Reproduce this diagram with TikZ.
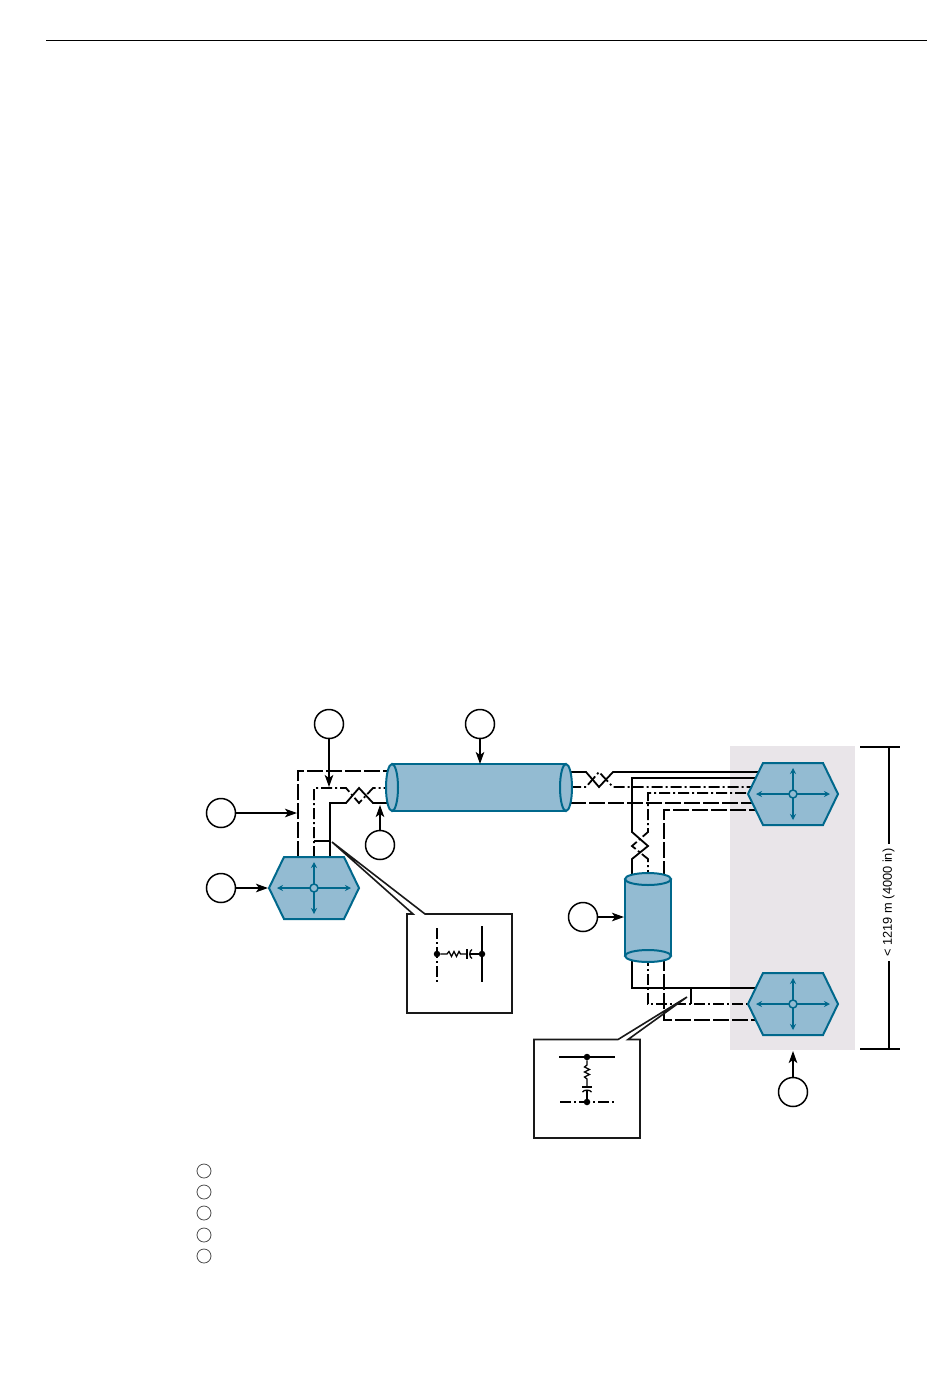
\documentclass[tikz,border=0pt]{standalone}
\usepackage{fontspec}
\setmainfont{Liberation Sans}
\usetikzlibrary{arrows.meta}
\definecolor{netfill}{HTML}{93BBD2}
\definecolor{netline}{HTML}{00688C}
\definecolor{zonefill}{HTML}{E9E5E9}
\tikzset{
  wire/.style={line width=1.8pt,line join=miter},
  solidwire/.style={wire},
  dotwire/.style={wire,dash pattern=on 11pt off 3pt on 2pt off 3pt},
  longwire/.style={wire,dash pattern=on 16pt off 3pt},
  callout/.style={line width=1.6pt,draw=black!90},
  tag/.style={circle,draw=black,line width=1.5pt,fill=white,minimum size=29pt,inner sep=0pt},
  legendtag/.style={circle,draw=black!70,line width=.8pt,minimum size=14pt,inner sep=0pt},
  pointer/.style={line width=1.7pt,-{Stealth[length=12pt,width=8.5pt,inset=3pt]}},
  netshape/.style={draw=netline,fill=netfill,line width=2pt,line join=miter},
  inarrow/.style={draw=netline,line width=1.6pt,{Stealth[length=6pt,width=6pt]}-{Stealth[length=6pt,width=6pt]}},
  junction/.style={circle,fill=black,minimum size=6.5pt,inner sep=0pt},
  part/.style={line width=1.3pt},
  dim/.style={line width=1.6pt}
}
\newcommand{\hexnet}[2]{%
  \path[netshape] (#1-45,#2) -- (#1-30,#2-31) -- (#1+30,#2-31) -- (#1+45,#2) -- (#1+30,#2+31) -- (#1-30,#2+31) -- cycle;
  \draw[inarrow] (#1-37,#2) -- (#1+37,#2);
  \draw[inarrow] (#1,#2-26) -- (#1,#2+26);
  \path[draw=netline,fill=netfill,line width=1.5pt] (#1,#2) circle (4pt);
}
\begin{document}
\begin{tikzpicture}[x=1pt,y=-1pt]
\useasboundingbox[fill=white] (0,0) rectangle (950,1387);
\draw[line width=1pt] (46,40) -- (927,40);
\fill[zonefill] (730,746) rectangle (855,1050);

% wires, left
\draw[longwire] (298,857) -- (298,771) -- (390,771);
\draw[dotwire] (314,857) -- (314,788) -- (346,788) -- (359,803) -- (373,788) -- (390,788);
\draw[solidwire] (330,857) -- (330,803) -- (346,803) -- (359,788) -- (373,803) -- (390,803);
\draw[solidwire] (314,841) -- (330,841);
% wires, upper right
\draw[solidwire] (570,772) -- (586,772) -- (599,787) -- (613,772) -- (765,772);
\draw[dotwire] (570,787) -- (586,787) -- (599,772) -- (613,787) -- (765,787);
\draw[longwire] (570,803) -- (765,803);
\draw[solidwire] (765,778) -- (632,778) -- (632,832) -- (648,846) -- (632,859) -- (632,880);
\draw[dotwire] (765,793) -- (648,793) -- (648,832) -- (632,846) -- (648,859) -- (648,880);
\draw[longwire] (765,810) -- (664,810) -- (664,880);
% wires, lower right
\draw[solidwire] (632,955) -- (632,988) -- (765,988);
\draw[dotwire] (648,955) -- (648,1004) -- (765,1004);
\draw[longwire] (664,955) -- (664,1020) -- (765,1020);
\draw[solidwire] (691,988) -- (691,1004);

% backbone cylinder
\fill[netfill] (392,764) rectangle (566,811);
\draw[draw=netline,line width=2pt] (392,764) -- (566,764);
\draw[draw=netline,line width=2pt] (392,811) -- (566,811);
\path[netshape] (392,787.5) ellipse (6pt and 23.5pt);
\path[netshape] (566,787.5) ellipse (6pt and 23.5pt);
% riser cylinder
\fill[netfill] (625,879) rectangle (671,956);
\draw[draw=netline,line width=2pt] (625,879) -- (625,956);
\draw[draw=netline,line width=2pt] (671,879) -- (671,956);
\path[netshape] (648,879) ellipse (23pt and 6pt);
\path[netshape] (648,956) ellipse (23pt and 6pt);

% hexagons
\hexnet{314}{888}
\hexnet{793}{794}
\hexnet{793}{1004}

% callout 1
\draw[callout] (413,914) -- (407,914) -- (407,1013) -- (512,1013) -- (512,914) -- (425,914) -- (332,842) -- cycle;
\draw[dotwire,line width=1.6pt] (437,928) -- (437,982);
\draw[part,line width=1.7pt] (482,926) -- (482,982);
\node[junction] (j1) at (437,954) {};
\node[junction] (j2) at (482,954) {};
\draw[part] (j1) -- (447,954) -- (449,951.5) -- (451.5,956.5) -- (454,951.5) -- (456.5,956.5) -- (459,951.5) -- (460.5,954) -- (467,954);
\draw[part] (467,949) -- (467,959);
\draw[part] (472,949.5) .. controls (469,951) and (469,957) .. (472,958.5);
\draw[part] (470,954) -- (j2);

% callout 2
\draw[callout] (618,1039.5) -- (534,1039.5) -- (534,1138) -- (640,1138) -- (640,1039.5) -- (628,1039.5) -- (687,997) -- cycle;
\draw[part,line width=1.7pt] (559,1057) -- (615,1057);
\draw[dotwire,line width=1.6pt] (560,1102) -- (616,1102);
\node[junction] (j3) at (587,1057) {};
\node[junction] (j4) at (587,1102) {};
\draw[part] (j3) -- (587,1065) -- (584.5,1067) -- (589.5,1069.5) -- (584.5,1072) -- (589.5,1074.5) -- (584.5,1077) -- (587,1079) -- (587,1087);
\draw[part,line width=1.5pt] (582,1087) -- (592,1087);
\draw[part] (582.5,1092) .. controls (584,1089.5) and (590,1089.5) .. (591.5,1092);
\draw[part] (587,1090) -- (j4);

% numbered tags and pointers
\node[tag] (t1) at (329,724) {};
\node[tag] (t2) at (480,724) {};
\node[tag] (t3) at (221,813) {};
\node[tag] (t4) at (221,888) {};
\node[tag] (t5) at (380,845) {};
\node[tag] (t6) at (583,917) {};
\node[tag] (t7) at (793,1092) {};
\coordinate (p1) at (329,787);
\coordinate (p2) at (480,764);
\coordinate (p3) at (297,813);
\coordinate (p4) at (268,888);
\coordinate (p5) at (380,805);
\coordinate (p6) at (624,917);
\coordinate (p7) at (793,1051);
\draw[pointer] (t1) -- (p1);
\draw[pointer] (t2) -- (p2);
\draw[pointer] (t3) -- (p3);
\draw[pointer] (t4) -- (p4);
\draw[pointer] (t5) -- (p5);
\draw[pointer] (t6) -- (p6);
\draw[pointer] (t7) -- (p7);

% legend
\node[legendtag] (l1) at (204,1171) {};
\node[legendtag] (l2) at (204,1192) {};
\node[legendtag] (l3) at (204,1213) {};
\node[legendtag] (l4) at (204,1235) {};
\node[legendtag] (l5) at (204,1256) {};

% dimension
\node[rotate=90,font=\fontsize{12.8}{15}\selectfont,inner sep=4.5pt] (dimlabel) at (888.5,902.5) {< 1219 m (4000 in)};
\coordinate (dimtop) at (889,747);
\coordinate (dimbot) at (889,1049);
\draw[dim] (860,747) -- (900,747);
\draw[dim] (860,1049) -- (900,1049);
\draw[dim] (dimtop) -- (dimtop |- dimlabel.east);
\draw[dim] (dimbot |- dimlabel.west) -- (dimbot);
\end{tikzpicture}
\end{document}
